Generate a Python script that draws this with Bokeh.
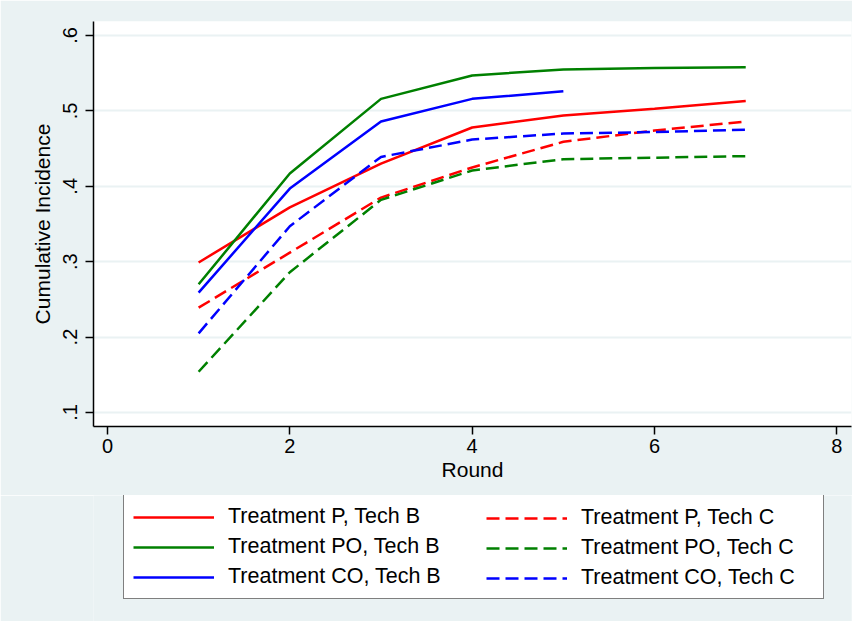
from bokeh.plotting import figure
from bokeh.models import Legend, LegendItem, Range1d, FixedTicker
from bokeh.layouts import column
from bokeh.embed import file_html
from bokeh.resources import INLINE

# ---- data ----
rounds = [1, 2, 3, 4, 5, 6, 7]
rounds_co_b = [1, 2, 3, 4, 5]
p_tech_b = [0.299, 0.372, 0.430, 0.478, 0.494, 0.503, 0.513]
po_tech_b = [0.270, 0.417, 0.516, 0.547, 0.555, 0.557, 0.558]
co_tech_b = [0.259, 0.397, 0.486, 0.516, 0.526]
p_tech_c = [0.239, 0.312, 0.385, 0.425, 0.459, 0.474, 0.486]
po_tech_c = [0.154, 0.286, 0.382, 0.421, 0.436, 0.438, 0.440]
co_tech_c = [0.205, 0.347, 0.439, 0.462, 0.470, 0.472, 0.475]

x_ticks = [0, 2, 4, 6, 8]
y_ticks = [0.1, 0.2, 0.3, 0.4, 0.5, 0.6]
y_tick_labels = [".1", ".2", ".3", ".4", ".5", ".6"]

labels_b = ["Treatment P, Tech B", "Treatment PO, Tech B", "Treatment CO, Tech B"]
labels_c = ["Treatment P, Tech C", "Treatment PO, Tech C", "Treatment CO, Tech C"]
colors = ["#FF0000", "#008000", "#0000FF"]

BG = "#EAF2F3"
FONT = "Liberation Sans"
LW = 2.5
DASH = "13 6"

xs_b = [rounds, rounds, rounds_co_b]
ys_b = [p_tech_b, po_tech_b, co_tech_b]
ys_c = [p_tech_c, po_tech_c, co_tech_c]

# ---- main chart ----
p = figure(width=852, height=495, output_backend="svg", toolbar_location=None,
           x_range=Range1d(-0.153, 8.16), y_range=Range1d(0.0814, 0.6186),
           min_border_left=93, min_border_right=1, min_border_top=21,
           min_border_bottom=69)
p.background_fill_color = "white"
p.border_fill_color = BG
p.outline_line_color = None

p.xgrid.visible = False
p.ygrid.grid_line_color = BG
p.ygrid.grid_line_width = 2

p.xaxis.ticker = FixedTicker(ticks=x_ticks)
p.yaxis.ticker = FixedTicker(ticks=y_ticks)
p.yaxis.major_label_overrides = {t: l for t, l in zip(y_ticks, y_tick_labels)}
p.yaxis.major_label_orientation = "vertical"
for ax in (p.xaxis, p.yaxis):
    ax.axis_line_color = "black"
    ax.axis_line_width = 1.5
    ax.major_tick_line_color = "black"
    ax.major_tick_line_width = 1.5
    ax.major_tick_out = 8
    ax.major_tick_in = 0
    ax.minor_tick_line_color = None
    ax.major_label_text_font = FONT
    ax.major_label_text_font_size = "20px"
    ax.major_label_text_color = "black"
    ax.axis_label_text_font = FONT
    ax.axis_label_text_font_size = "21px"
    ax.axis_label_text_font_style = "normal"
    ax.axis_label_text_color = "black"
p.xaxis.axis_label = "Round"
p.yaxis.axis_label = "Cumulative Incidence"
p.xaxis.major_label_standoff = 4
p.xaxis.axis_label_standoff = 2
p.yaxis.major_label_standoff = 8
p.yaxis.axis_label_standoff = 7

for xs, ys, c in zip(xs_b, ys_b, colors):
    p.line(xs, ys, line_color=c, line_width=LW)
for ys, c in zip(ys_c, colors):
    p.line(rounds, ys, line_color=c, line_width=LW, line_dash=DASH)

# ---- legend strip (separate figure so the box is not clipped) ----
# its ranges are set away from the data so only the legend shows
p2 = figure(width=852, height=126, output_backend="svg", toolbar_location=None,
            x_range=Range1d(100, 101), y_range=Range1d(100, 101), min_border=0,
            x_axis_location=None, y_axis_location=None)
p2.grid.visible = False
p2.background_fill_color = BG
p2.border_fill_color = BG
p2.outline_line_color = None

lb = [p2.line(xs, ys, line_color=c, line_width=LW) for xs, ys, c in zip(xs_b, ys_b, colors)]
lc = [p2.line(rounds, ys, line_color=c, line_width=LW, line_dash=DASH) for ys, c in zip(ys_c, colors)]

common = dict(label_text_font=FONT, label_text_font_size="21.5px",
              label_text_color="black", glyph_width=81, glyph_height=22,
              label_height=22, label_standoff=14, spacing=5, padding=9, margin=0)
leg1 = Legend(items=[LegendItem(label=l, renderers=[r]) for l, r in zip(labels_b, lb)],
              location=(30, 22), border_line_color="black", border_line_width=1,
              background_fill_color="white", background_fill_alpha=1.0,
              label_width=586, **common)
# borderless legend: padding collapses, so offset by the padding amount
leg2 = Legend(items=[LegendItem(label=l, renderers=[r]) for l, r in zip(labels_c, lc)],
              location=(393, 31), border_line_color=None,
              background_fill_alpha=0.0, label_width=20, **common)
p2.add_layout(leg1, "center")
p2.add_layout(leg2, "center")

open("out.html", "w").write(file_html(column(p, p2), INLINE))
